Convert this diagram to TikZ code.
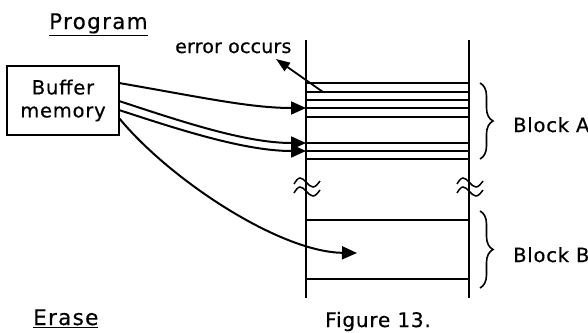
\documentclass[tikz,border=0pt]{standalone}
\usepackage{fontspec}
\setmainfont{DejaVu Sans}[LetterSpace=4,FakeBold=0.5]
\usetikzlibrary{arrows.meta,decorations.pathreplacing}
\begin{document}
\begin{tikzpicture}[x=1pt,y=-1pt,
  lbl/.style={inner sep=0pt, anchor=base west, font=\fontsize{19.5pt}{23pt}\selectfont},
  title/.style={inner sep=0pt, anchor=base west, font=\fontsize{21.5pt}{26pt}\selectfont\addfontfeatures{LetterSpace=6}},
  memline/.style={line width=2pt},
  cell/.style={line width=1.6pt},
  feed/.style={line width=2pt, -{Triangle[length=15pt,width=13pt]}},
  bracestyle/.style={line width=1.6pt, decorate, decoration={brace, amplitude=13pt}},
  wave/.style={line width=1.5pt}]
\useasboundingbox (0,0) rectangle (588,332);

% texts
\node[title] (prog) at (49,29) {\underline{Program}};
\node[title] (erase) at (33,325) {\underline{Erase}};
\node[lbl, font=\fontsize{19pt}{23pt}\selectfont\addfontfeatures{LetterSpace=1}] (err) at (175,53) {error occurs};
\node[lbl] (blockA) at (513,132) {Block A};
\node[lbl] (blockB) at (513,262) {Block B};
\node[inner sep=0pt, anchor=base west, font=\fontsize{20pt}{25pt}\selectfont] (fig) at (325,327) {Figure 13.};

% buffer memory box
\node[draw, line width=1.8pt, minimum width=112pt, minimum height=69pt, inner sep=0pt,
      align=center, font=\fontsize{19.5pt}{23pt}\selectfont] (buf) at (63,100.5) {Buffer\\memory};

% memory columns
\coordinate (lt) at (306,40);
\coordinate (lb) at (306,298);
\coordinate (rt) at (469,40);
\coordinate (rb) at (469,298);
\draw[memline] (lt) -- (lb);
\draw[memline] (rt) -- (rb);

% block A rows
\foreach \yy in {83,92,100,108,143,151,159}{
  \draw[cell] (306,\yy) -- (469,\yy);
}
\draw[line width=2.3pt] (306,117) -- (469,117);
% block B rows
\draw[cell] (306,220) -- (469,220);
\draw[cell] (306,279) -- (469,279);

% break marks
\foreach \xx in {306,469}{
  \foreach \dy in {0,9}{
    \draw[wave] (\xx-12,184+\dy) sin (\xx-6,178+\dy) cos (\xx,182+\dy) sin (\xx+7,187+\dy) cos (\xx+14,181+\dy);
  }
}

% braces
\draw[bracestyle] (480,83) -- (480,159);
\draw[bracestyle] (480,211) -- (480,288);

% connector end points
\coordinate (s1) at (119,83);
\coordinate (s2) at (119,101);
\coordinate (s3) at (119,110);
\coordinate (s4) at (119,118);
\coordinate (t1) at (306,108);
\coordinate (t2) at (306,143);
\coordinate (t3) at (306,151);
\coordinate (t4) at (357,253);
\coordinate (e0) at (323,92);
\coordinate (e1) at (276,59);

\draw[feed] (s1) .. controls (200,97) and (250,108) .. (t1);
\draw[feed] (s2) .. controls (180,121) and (245,143) .. (t2);
\draw[feed] (s3) .. controls (180,130) and (245,151) .. (t3);
\draw[feed] (s4) .. controls (170,180) and (280,252) .. (t4);
\draw[line width=1.8pt, -{Triangle[length=14pt,width=10pt]}] (e0) -- (e1);
\end{tikzpicture}
\end{document}
